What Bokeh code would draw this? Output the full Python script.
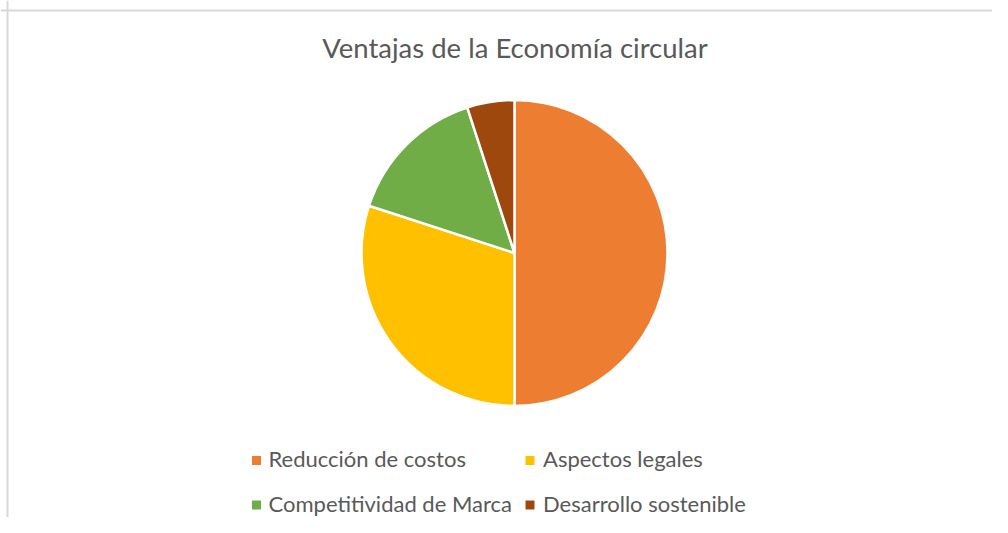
import numpy as np
from bokeh.plotting import figure
from bokeh.models import Range1d, Span, ColumnDataSource
from bokeh.core.properties import value
from bokeh.embed import file_html
from bokeh.resources import INLINE

title = "Ventajas de la Economía circular"
categories = ["Reducción de costos", "Aspectos legales", "Competitividad de Marca", "Desarrollo sostenible"]
values = [50, 30, 15, 5]
colors = ["#ED7D31", "#FFC000", "#70AD47", "#9E480E"]

W, H = 992, 517
FONT = "Lato"
TXT = "#595959"

p = figure(width=W, height=H, output_backend="svg", toolbar_location=None,
           x_range=Range1d(0, W), y_range=Range1d(0, H), min_border=0,
           x_axis_type=None, y_axis_type=None)
p.grid.visible = False
p.outline_line_color = None
p.background_fill_color = "white"
p.border_fill_color = "white"

def py(img_y):
    return H - img_y

# chart frame (top and left edges visible in reference)
p.add_layout(Span(location=7, dimension="height", line_color="#D9D9D9", line_width=2))
p.add_layout(Span(location=py(10), dimension="width", line_color="#D9D9D9", line_width=2))

# pie
vals = np.array(values, dtype=float)
frac = vals / vals.sum()
cum = np.concatenate([[0], np.cumsum(frac)])
start = np.pi / 2 - cum[:-1] * 2 * np.pi
end = np.pi / 2 - cum[1:] * 2 * np.pi
src = ColumnDataSource(dict(start=start, end=end, color=colors, cat=categories))
p.wedge(x=514, y=py(252.5), radius=153, start_angle="start", end_angle="end",
        direction="clock", fill_color="color", line_color="white", line_width=2.5, source=src)

# title
p.text(x=[514.5], y=[py(46.5)], text=[title], text_font=value(FONT), text_font_size="27.5px",
       text_color=TXT, text_align="center", text_baseline="middle")

# legend (2 columns)
sq_x = [256, 529.5, 256, 529.5]
sq_y = [py(460), py(460), py(504.5), py(504.5)]
tx_x = [268, 542.5, 268, 542.5]
tx_y = [py(458), py(458), py(502.5), py(502.5)]
p.scatter(x=sq_x, y=sq_y, marker="square", size=9, fill_color=colors, line_color=None)
p.text(x=tx_x, y=tx_y, text=categories, text_font=value(FONT), text_font_size="22px",
       text_color=TXT, text_align="left", text_baseline="middle")

open("out.html", "w").write(file_html(p, INLINE))
